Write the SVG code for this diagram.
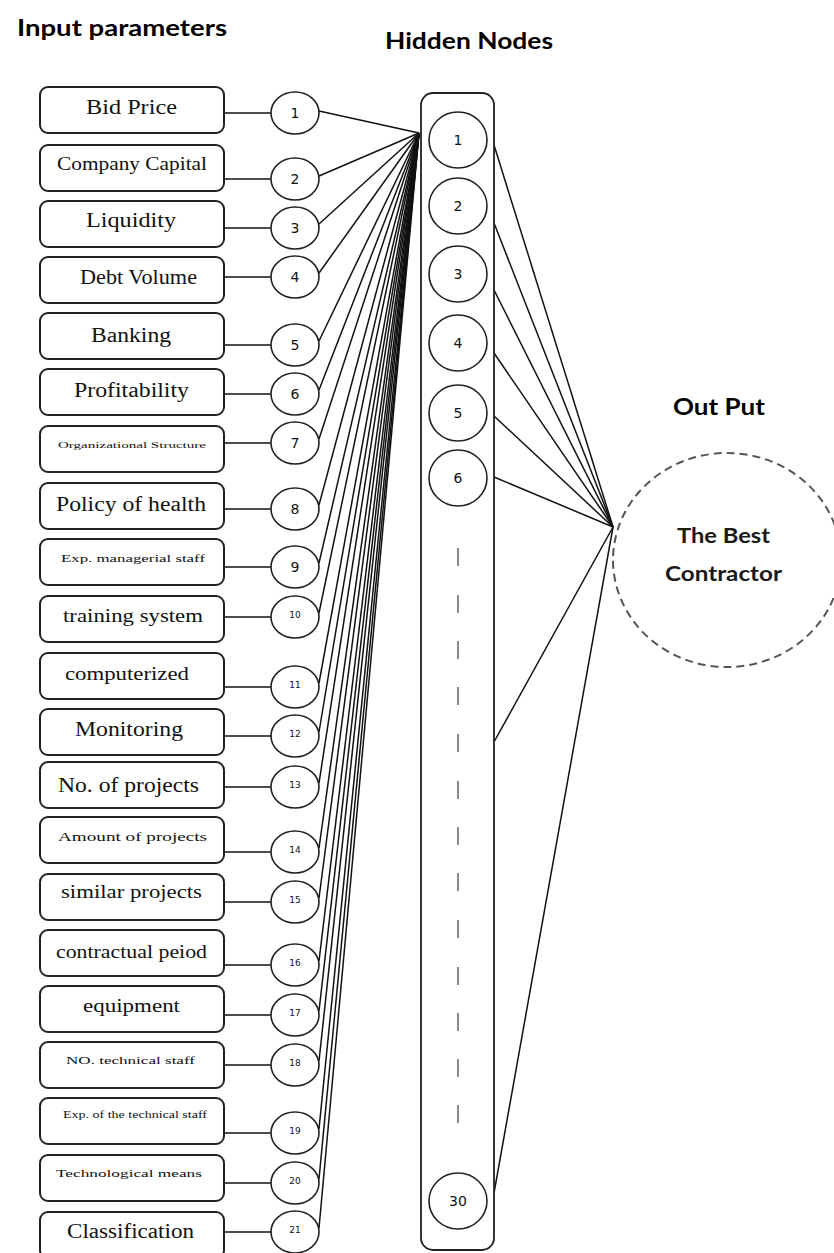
<svg xmlns="http://www.w3.org/2000/svg" width="834" height="1253" viewBox="0 0 834 1253">
<style>
.box{fill:#fff;stroke:#222;stroke-width:2}
.lbl{font-family:"Liberation Serif","Times New Roman",serif;fill:#111}
.inc{fill:#fff;stroke:#222;stroke-width:1.6}
.num{font-family:"DejaVu Sans",Verdana,sans-serif;fill:#111;text-anchor:middle}
.hd{font-family:Lato,"Open Sans","Liberation Sans",sans-serif;font-weight:bold;font-size:22px;fill:#000}
.ln{stroke:#111;stroke-width:1.5;fill:none}
.dash{stroke:#8a8a8a;stroke-width:2}
</style>
<rect width="834" height="1253" fill="#fff"/>
<g id="headings">
<text class="hd" x="17" y="36" textLength="210" lengthAdjust="spacingAndGlyphs">Input parameters</text>
<text class="hd" x="385" y="49" textLength="168" lengthAdjust="spacingAndGlyphs">Hidden Nodes</text>
<text class="hd" x="673" y="415" textLength="92" lengthAdjust="spacingAndGlyphs">Out Put</text>
</g>
<g id="connectors">
<g id="box-to-input">
<line class="ln" x1="224" y1="113" x2="271" y2="113"/>
<line class="ln" x1="224" y1="179" x2="271" y2="179"/>
<line class="ln" x1="224" y1="228" x2="271" y2="228"/>
<line class="ln" x1="224" y1="277" x2="271" y2="277"/>
<line class="ln" x1="224" y1="345" x2="271" y2="345"/>
<line class="ln" x1="224" y1="394" x2="271" y2="394"/>
<line class="ln" x1="224" y1="443" x2="271" y2="443"/>
<line class="ln" x1="224" y1="509" x2="271" y2="509"/>
<line class="ln" x1="224" y1="567" x2="271" y2="567"/>
<line class="ln" x1="224" y1="617" x2="271" y2="617"/>
<line class="ln" x1="224" y1="687" x2="271" y2="687"/>
<line class="ln" x1="224" y1="736" x2="271" y2="736"/>
<line class="ln" x1="224" y1="787" x2="271" y2="787"/>
<line class="ln" x1="224" y1="852" x2="271" y2="852"/>
<line class="ln" x1="224" y1="902" x2="271" y2="902"/>
<line class="ln" x1="224" y1="965" x2="271" y2="965"/>
<line class="ln" x1="224" y1="1015" x2="271" y2="1015"/>
<line class="ln" x1="224" y1="1065" x2="271" y2="1065"/>
<line class="ln" x1="224" y1="1133" x2="271" y2="1133"/>
<line class="ln" x1="224" y1="1183" x2="271" y2="1183"/>
<line class="ln" x1="224" y1="1232" x2="271" y2="1232"/>
</g>
<g id="input-to-hidden">
<line class="ln" x1="319" y1="111" x2="419" y2="133"/>
<line class="ln" x1="319" y1="176" x2="419" y2="133"/>
<line class="ln" x1="319" y1="224" x2="419" y2="133"/>
<line class="ln" x1="319" y1="273" x2="419" y2="133"/>
<line class="ln" x1="319" y1="341" x2="419" y2="133"/>
<line class="ln" x1="319" y1="390" x2="419" y2="133"/>
<line class="ln" x1="319" y1="439" x2="419" y2="133"/>
<line class="ln" x1="319" y1="505" x2="419" y2="133"/>
<line class="ln" x1="319" y1="563" x2="419" y2="133"/>
<line class="ln" x1="319" y1="613" x2="419" y2="133"/>
<line class="ln" x1="319" y1="683" x2="419" y2="133"/>
<line class="ln" x1="319" y1="732" x2="419" y2="133"/>
<line class="ln" x1="319" y1="783" x2="419" y2="133"/>
<line class="ln" x1="319" y1="848" x2="419" y2="133"/>
<line class="ln" x1="319" y1="898" x2="419" y2="133"/>
<line class="ln" x1="319" y1="961" x2="419" y2="133"/>
<line class="ln" x1="319" y1="1011" x2="419" y2="133"/>
<line class="ln" x1="319" y1="1061" x2="419" y2="133"/>
<line class="ln" x1="319" y1="1129" x2="419" y2="133"/>
<line class="ln" x1="319" y1="1179" x2="419" y2="133"/>
<line class="ln" x1="319" y1="1228" x2="419" y2="133"/>
</g>
<g id="hidden-to-output">
<line class="ln" x1="494" y1="145" x2="613" y2="527"/>
<line class="ln" x1="494" y1="223" x2="613" y2="527"/>
<line class="ln" x1="494" y1="290" x2="613" y2="527"/>
<line class="ln" x1="494" y1="353" x2="613" y2="527"/>
<line class="ln" x1="494" y1="416" x2="613" y2="527"/>
<line class="ln" x1="494" y1="477" x2="613" y2="527"/>
<line class="ln" x1="494" y1="742" x2="613" y2="527"/>
<line class="ln" x1="494" y1="1193" x2="613" y2="527"/>
</g>
</g>
<g id="input-boxes">
<g id="in1"><rect class="box" x="40" y="87" width="184" height="46" rx="8"/><text class="lbl" x="86" y="114" font-size="20" textLength="91" lengthAdjust="spacingAndGlyphs">Bid Price</text></g>
<g id="in2"><rect class="box" x="40" y="145" width="184" height="46" rx="8"/><text class="lbl" x="57" y="170" font-size="19" textLength="150" lengthAdjust="spacingAndGlyphs">Company Capital</text></g>
<g id="in3"><rect class="box" x="40" y="201" width="184" height="46" rx="8"/><text class="lbl" x="86" y="227" font-size="20" textLength="90" lengthAdjust="spacingAndGlyphs">Liquidity</text></g>
<g id="in4"><rect class="box" x="40" y="257" width="184" height="46" rx="8"/><text class="lbl" x="80" y="284" font-size="20" textLength="117" lengthAdjust="spacingAndGlyphs">Debt Volume</text></g>
<g id="in5"><rect class="box" x="40" y="313" width="184" height="46" rx="8"/><text class="lbl" x="91" y="342" font-size="20" textLength="80" lengthAdjust="spacingAndGlyphs">Banking</text></g>
<g id="in6"><rect class="box" x="40" y="369" width="184" height="46" rx="8"/><text class="lbl" x="74" y="397" font-size="20" textLength="115" lengthAdjust="spacingAndGlyphs">Profitability</text></g>
<g id="in7"><rect class="box" x="40" y="426" width="184" height="46" rx="8"/><text class="lbl" x="58" y="448" font-size="9" textLength="148" lengthAdjust="spacingAndGlyphs">Organizational Structure</text></g>
<g id="in8"><rect class="box" x="40" y="483" width="184" height="46" rx="8"/><text class="lbl" x="56" y="511" font-size="20" textLength="150" lengthAdjust="spacingAndGlyphs">Policy of health</text></g>
<g id="in9"><rect class="box" x="40" y="539" width="184" height="46" rx="8"/><text class="lbl" x="61" y="562" font-size="11" textLength="144" lengthAdjust="spacingAndGlyphs">Exp. managerial staff</text></g>
<g id="in10"><rect class="box" x="40" y="596" width="184" height="46" rx="8"/><text class="lbl" x="63" y="622" font-size="19" textLength="140" lengthAdjust="spacingAndGlyphs">training system</text></g>
<g id="in11"><rect class="box" x="40" y="653" width="184" height="46" rx="8"/><text class="lbl" x="65" y="680" font-size="19" textLength="124" lengthAdjust="spacingAndGlyphs">computerized</text></g>
<g id="in12"><rect class="box" x="40" y="709" width="184" height="46" rx="8"/><text class="lbl" x="75" y="736" font-size="20" textLength="108" lengthAdjust="spacingAndGlyphs">Monitoring</text></g>
<g id="in13"><rect class="box" x="40" y="762" width="184" height="46" rx="8"/><text class="lbl" x="58" y="792" font-size="20" textLength="141" lengthAdjust="spacingAndGlyphs">No. of projects</text></g>
<g id="in14"><rect class="box" x="40" y="817" width="184" height="46" rx="8"/><text class="lbl" x="58" y="841" font-size="13" textLength="149" lengthAdjust="spacingAndGlyphs">Amount of projects</text></g>
<g id="in15"><rect class="box" x="40" y="874" width="184" height="46" rx="8"/><text class="lbl" x="61" y="898" font-size="18" textLength="141" lengthAdjust="spacingAndGlyphs">similar projects</text></g>
<g id="in16"><rect class="box" x="40" y="930" width="184" height="46" rx="8"/><text class="lbl" x="56" y="958" font-size="18" textLength="151" lengthAdjust="spacingAndGlyphs">contractual peiod</text></g>
<g id="in17"><rect class="box" x="40" y="986" width="184" height="46" rx="8"/><text class="lbl" x="83" y="1012" font-size="19" textLength="97" lengthAdjust="spacingAndGlyphs">equipment</text></g>
<g id="in18"><rect class="box" x="40" y="1042" width="184" height="46" rx="8"/><text class="lbl" x="66" y="1064" font-size="11" textLength="129" lengthAdjust="spacingAndGlyphs">NO. technical staff</text></g>
<g id="in19"><rect class="box" x="40" y="1098" width="184" height="46" rx="8"/><text class="lbl" x="63" y="1118" font-size="10" textLength="144" lengthAdjust="spacingAndGlyphs">Exp. of the technical staff</text></g>
<g id="in20"><rect class="box" x="40" y="1155" width="184" height="46" rx="8"/><text class="lbl" x="56" y="1177" font-size="11" textLength="146" lengthAdjust="spacingAndGlyphs">Technological means</text></g>
<g id="in21"><rect class="box" x="40" y="1212" width="184" height="46" rx="8"/><text class="lbl" x="67" y="1238" font-size="20" textLength="127" lengthAdjust="spacingAndGlyphs">Classification</text></g>
</g>
<g id="input-nodes">
<g id="i1"><ellipse class="inc" cx="295" cy="113" rx="24" ry="21"/><text class="num" x="295" y="118" font-size="14">1</text></g>
<g id="i2"><ellipse class="inc" cx="295" cy="179" rx="24" ry="21"/><text class="num" x="295" y="184" font-size="14">2</text></g>
<g id="i3"><ellipse class="inc" cx="295" cy="228" rx="24" ry="21"/><text class="num" x="295" y="233" font-size="14">3</text></g>
<g id="i4"><ellipse class="inc" cx="295" cy="277" rx="24" ry="21"/><text class="num" x="295" y="282" font-size="14">4</text></g>
<g id="i5"><ellipse class="inc" cx="295" cy="345" rx="24" ry="21"/><text class="num" x="295" y="350" font-size="14">5</text></g>
<g id="i6"><ellipse class="inc" cx="295" cy="394" rx="24" ry="21"/><text class="num" x="295" y="399" font-size="14">6</text></g>
<g id="i7"><ellipse class="inc" cx="295" cy="443" rx="24" ry="21"/><text class="num" x="295" y="448" font-size="14">7</text></g>
<g id="i8"><ellipse class="inc" cx="295" cy="509" rx="24" ry="21"/><text class="num" x="295" y="514" font-size="14">8</text></g>
<g id="i9"><ellipse class="inc" cx="295" cy="567" rx="24" ry="21"/><text class="num" x="295" y="572" font-size="14">9</text></g>
<g id="i10"><ellipse class="inc" cx="295" cy="617" rx="24" ry="21"/><text class="num" x="295" y="618" font-size="9">10</text></g>
<g id="i11"><ellipse class="inc" cx="295" cy="687" rx="24" ry="21"/><text class="num" x="295" y="688" font-size="9">11</text></g>
<g id="i12"><ellipse class="inc" cx="295" cy="736" rx="24" ry="21"/><text class="num" x="295" y="737" font-size="9">12</text></g>
<g id="i13"><ellipse class="inc" cx="295" cy="787" rx="24" ry="21"/><text class="num" x="295" y="788" font-size="9">13</text></g>
<g id="i14"><ellipse class="inc" cx="295" cy="852" rx="24" ry="21"/><text class="num" x="295" y="853" font-size="9">14</text></g>
<g id="i15"><ellipse class="inc" cx="295" cy="902" rx="24" ry="21"/><text class="num" x="295" y="903" font-size="9">15</text></g>
<g id="i16"><ellipse class="inc" cx="295" cy="965" rx="24" ry="21"/><text class="num" x="295" y="966" font-size="9">16</text></g>
<g id="i17"><ellipse class="inc" cx="295" cy="1015" rx="24" ry="21"/><text class="num" x="295" y="1016" font-size="9">17</text></g>
<g id="i18"><ellipse class="inc" cx="295" cy="1065" rx="24" ry="21"/><text class="num" x="295" y="1066" font-size="9">18</text></g>
<g id="i19"><ellipse class="inc" cx="295" cy="1133" rx="24" ry="21"/><text class="num" x="295" y="1134" font-size="9">19</text></g>
<g id="i20"><ellipse class="inc" cx="295" cy="1183" rx="24" ry="21"/><text class="num" x="295" y="1184" font-size="9">20</text></g>
<g id="i21"><ellipse class="inc" cx="295" cy="1232" rx="24" ry="21"/><text class="num" x="295" y="1233" font-size="9">21</text></g>
</g>
<g id="hidden-layer">
<rect id="hidden-column" class="box" x="421" y="93" width="73" height="1157" rx="12" style="stroke-width:1.8"/>
<g id="h1"><ellipse class="inc" cx="458" cy="140" rx="29" ry="28"/><text class="num" x="458" y="145" font-size="14">1</text></g>
<g id="h2"><ellipse class="inc" cx="458" cy="206" rx="29" ry="28"/><text class="num" x="458" y="211" font-size="14">2</text></g>
<g id="h3"><ellipse class="inc" cx="458" cy="274" rx="29" ry="28"/><text class="num" x="458" y="279" font-size="14">3</text></g>
<g id="h4"><ellipse class="inc" cx="458" cy="343" rx="29" ry="28"/><text class="num" x="458" y="348" font-size="14">4</text></g>
<g id="h5"><ellipse class="inc" cx="458" cy="413" rx="29" ry="28"/><text class="num" x="458" y="418" font-size="14">5</text></g>
<g id="h6"><ellipse class="inc" cx="458" cy="478" rx="29" ry="28"/><text class="num" x="458" y="483" font-size="14">6</text></g>
<g id="ellipsis">
<line class="dash" x1="458" y1="548" x2="458" y2="566"/>
<line class="dash" x1="458" y1="595" x2="458" y2="613"/>
<line class="dash" x1="458" y1="641" x2="458" y2="659"/>
<line class="dash" x1="458" y1="687" x2="458" y2="705"/>
<line class="dash" x1="458" y1="734" x2="458" y2="752"/>
<line class="dash" x1="458" y1="781" x2="458" y2="799"/>
<line class="dash" x1="458" y1="827" x2="458" y2="845"/>
<line class="dash" x1="458" y1="873" x2="458" y2="891"/>
<line class="dash" x1="458" y1="920" x2="458" y2="938"/>
<line class="dash" x1="458" y1="967" x2="458" y2="985"/>
<line class="dash" x1="458" y1="1013" x2="458" y2="1031"/>
<line class="dash" x1="458" y1="1059" x2="458" y2="1077"/>
<line class="dash" x1="458" y1="1105" x2="458" y2="1123"/>
</g>
<g id="h30"><ellipse class="inc" cx="458" cy="1201" rx="29" ry="28"/><text class="num" x="458" y="1206" font-size="14">30</text></g>
</g>
<g id="output">
<ellipse cx="727" cy="560" rx="114" ry="107" fill="none" stroke="#555" stroke-width="2" stroke-dasharray="8 5"/>
<text class="hd" x="677" y="543" style="font-size:20px;fill:#1a1a1a" textLength="93" lengthAdjust="spacingAndGlyphs">The Best</text>
<text class="hd" x="665" y="581" style="font-size:20px;fill:#1a1a1a" textLength="117" lengthAdjust="spacingAndGlyphs">Contractor</text>
</g>
</svg>
